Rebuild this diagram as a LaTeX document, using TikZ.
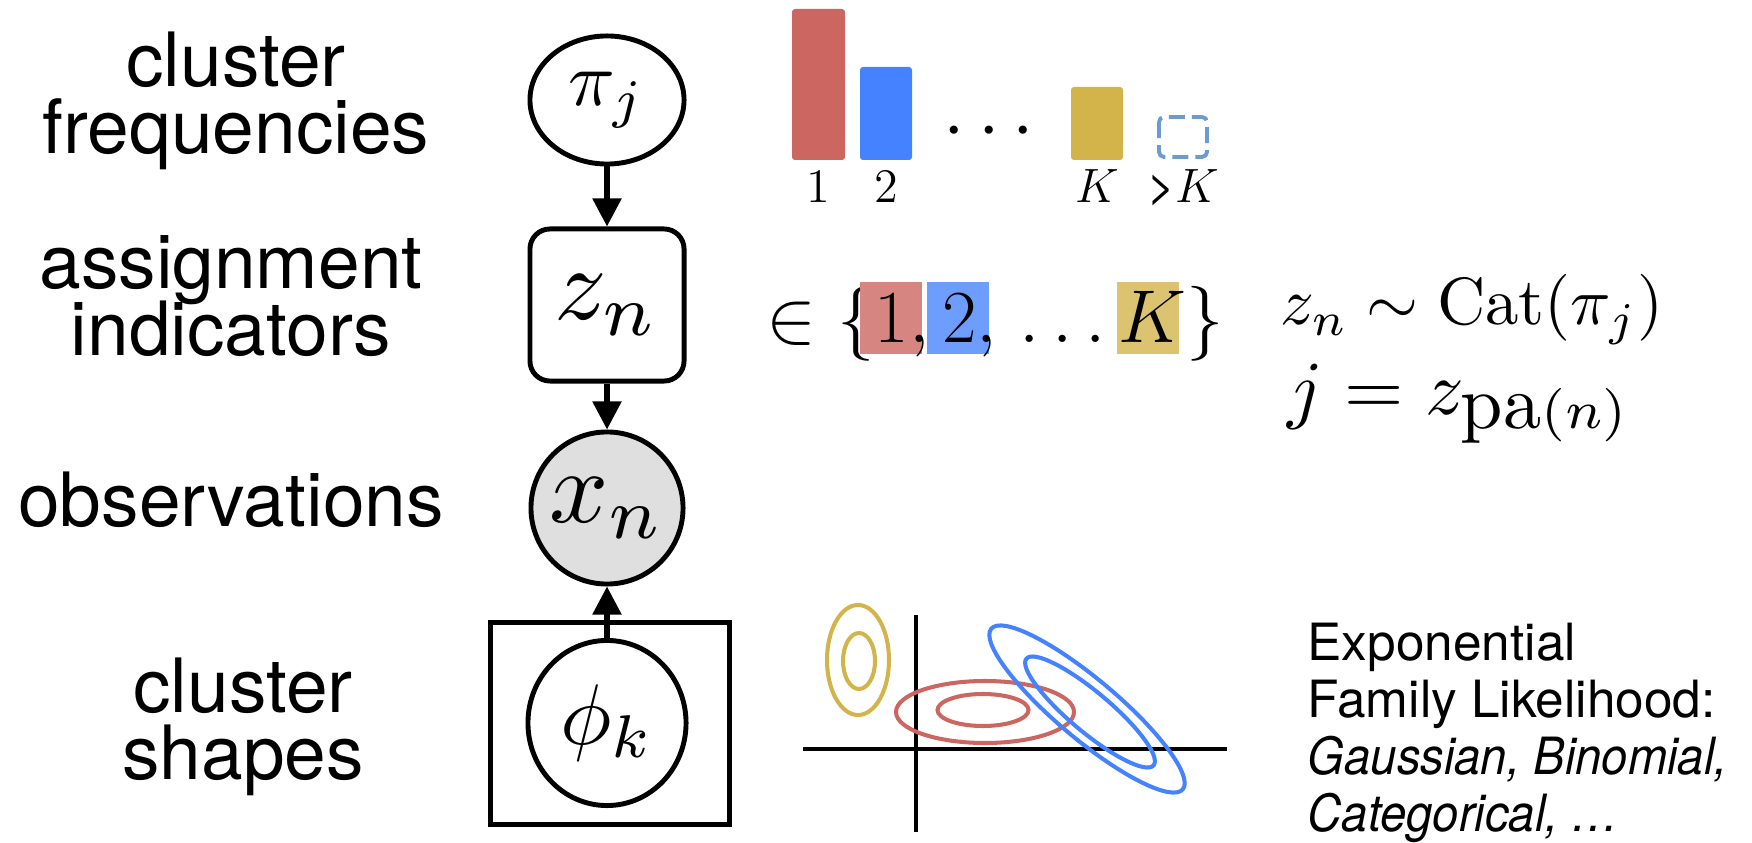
\RequirePackage{fix-cm}
\documentclass[tikz,border=0pt]{standalone}
\usepackage{fontspec}
\setsansfont{TeX Gyre Heros}
\usetikzlibrary{arrows.meta,shapes.geometric}
\definecolor{clred}{HTML}{CC6660}
\definecolor{clblue}{HTML}{4482FF}
\definecolor{clgold}{HTML}{D2B44B}
\definecolor{cldash}{HTML}{6A9BD1}
\definecolor{obsgray}{HTML}{DFDFDF}
\newcommand{\hlbox}[2][0.15cm]{\rlap{\kern-#1\textcolor{#2}{\rule[-0.11cm]{0.62cm}{0.72cm}}}}
\setlength{\lineskiplimit}{-50pt}

\begin{document}
\begin{tikzpicture}[x=0.01cm, y=-0.01cm,
    latent/.style={ellipse, draw, line width=1.4pt, inner sep=0pt},
    indicator/.style={rectangle, rounded corners=0.2cm, draw, line width=1.4pt, inner sep=0pt,
        minimum width=1.54cm, minimum height=1.52cm},
    dep/.style={-{Triangle[length=0.28cm,width=0.28cm]}, line width=1.5pt},
    lbl/.style={font=\sffamily\fontsize{21.3}{19.1}\selectfont, align=center, inner sep=0pt},
    tick/.style={font=\fontsize{13.7}{16}\selectfont, anchor=base, inner sep=0pt},
    contour/.style={line width=1.15pt}]

    \useasboundingbox (0,0) rectangle (1752,843);

    % Graphical model
        %% nodes
        \node[latent, minimum width=1.54cm, minimum height=1.28cm] (pi) at (607,100) {\scalebox{2.2}{$\pi_j$}};
        \node[indicator] (z) at (607,305) {\scalebox{2.95}{$z_n$}};
        \node[circle, draw, line width=1.4pt, inner sep=0pt, fill=obsgray, minimum size=1.52cm] (x)
            at (607,508) {\scalebox{2.95}{$x_n$}};
        \node[draw, line width=1.4pt, minimum width=2.39cm, minimum height=2.02cm] (plate) at (610,723.5) {};
        \node[latent, minimum width=1.58cm, minimum height=1.65cm] (phi) at (607,723) {\scalebox{2.45}{$\phi_k$}};

        %% arrows
        \draw[dep] (pi) -- (z);
        \draw[dep] (z) -- (x);
        \draw[dep] (phi) -- (x);

        %% labels
        \node[lbl, anchor=north] (lblfreq) at (236,31) {cluster\\frequencies};
        \node[lbl, anchor=north] (lblassign) at (231,235) {assignment\\indicators};
        \node[lbl, anchor=base] (lblobs) at (231,526) {observations};
        \node[lbl, anchor=north] (lblshape) at (243,657) {cluster\\shapes};

    % Cluster frequencies
        \fill[clred, rounded corners=0.03cm] (792,9) rectangle (845,160);
        \fill[clblue, rounded corners=0.03cm] (860,67) rectangle (912,160);
        \fill[clgold, rounded corners=0.03cm] (1071,87) rectangle (1123,160);
        \draw[cldash, line width=1.1pt, dash pattern=on 0.16cm off 0.07cm, rounded corners=0.05cm]
            (1159,117) rectangle (1207,157);
        \node[inner sep=0pt, anchor=base, font=\fontsize{22}{26}\selectfont] (dots) at (989,150) {$\cdots$};

        %% bar labels
        \node[tick] (t1) at (818.5,203) {$1$};
        \node[tick] (t2) at (886,203) {$2$};
        \node[tick] (tK) at (1097,203) {$K$};
        \node[tick] (tmore) at (1183,203) {{\sffamily >}$K$};

    % Assignments
        \node[anchor=base west, inner sep=0pt, font=\fontsize{21.3}{25}\selectfont] (members)
            at (766,343) {$\in \{\hlbox{clred!80}1, \hlbox{clblue!78}2, \mkern2.5mu\ldots \hlbox[0.01cm]{clgold!80}K\}$};
        \node[anchor=base west, inner sep=0pt] (catdist)
            at (1280,325) {\scalebox{1.9}{$z_n \sim \mathrm{Cat}(\pi_j)$}};
        \node[anchor=base west, inner sep=0pt] (parent)
            at (1287,415) {\scalebox{2.17}{$j = z_{\mbox{pa}(n)}$}};

    % Cluster shapes
        %% axes
        \draw[line width=1.1pt] (803,749) -- (1227,749);
        \draw[line width=1.1pt] (916,615) -- (916,832);

        %% gold cluster
        \draw[clgold, contour] (858,660) ellipse [x radius=31, y radius=55];
        \draw[clgold, contour] (859,661) ellipse [x radius=16, y radius=28];

        %% red cluster
        \draw[clred, contour] (985,712) ellipse [x radius=89, y radius=31];
        \draw[clred, contour] (983,710) ellipse [x radius=45.5, y radius=16];

        %% blue cluster
        \draw[clblue, contour, rotate around={-40:(1087,709)}] (1087,709) ellipse [x radius=125, y radius=30];
        \draw[clblue, contour, rotate around={-40:(1090,712)}] (1090,712) ellipse [x radius=83, y radius=20];

        %% likelihood
        \node[anchor=north west, align=left, inner sep=0pt,
            font=\sffamily\fontsize{14.6}{16.2}\selectfont] (lik) at (1307,622)
            {Exponential\\Family Likelihood:\\
            {\itshape\addfontfeatures{FakeStretch=0.92}Gaussian, Binomial,}\\
            {\itshape\addfontfeatures{FakeStretch=0.92}Categorical, \dots}};

\end{tikzpicture}
\end{document}
